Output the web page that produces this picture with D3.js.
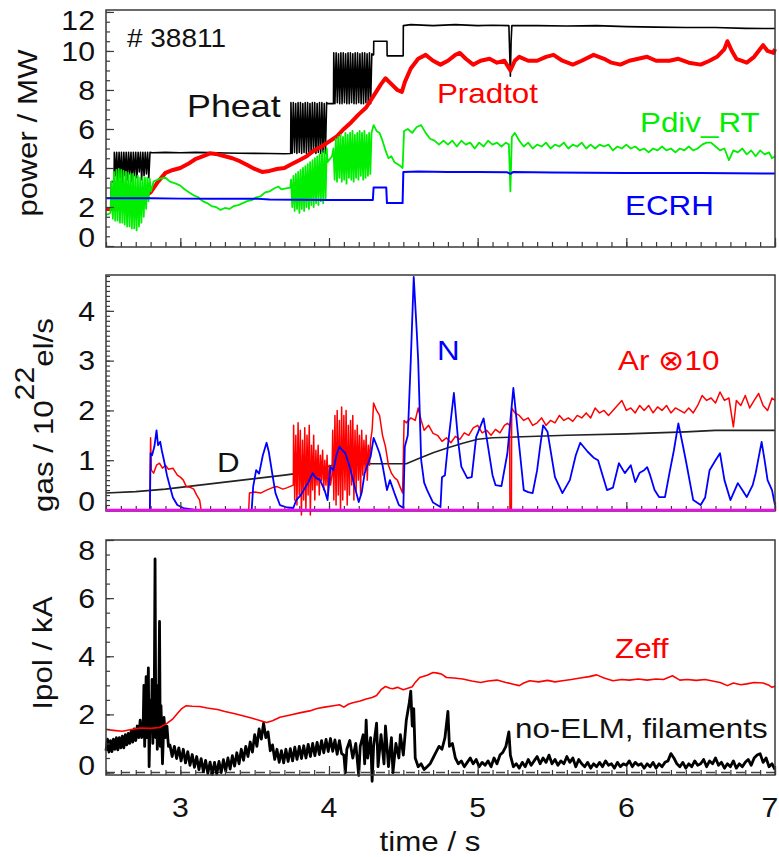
<!DOCTYPE html>
<html>
<head>
<meta charset="utf-8">
<script src="https://cdn.jsdelivr.net/npm/d3@7"></script>
<style>
  body { margin: 0; background: #fff; }
  text { font-family: "Liberation Sans", Arial, sans-serif; }
</style>
</head>
<body>
<svg id="chart" width="779" height="857"></svg>
<script>
const seq = (t0, dt, vals) => vals.map((v, i) => [+(t0 + i * dt).toFixed(4), v]);

const timeTicks = [3, 4, 5, 6, 7];
const powerTicks = [0, 2, 4, 6, 8, 10, 12];
const gasTicks = [0, 1, 2, 3, 4];
const ipolTicks = [0, 2, 4, 6, 8];

// ---- top panel: power / MW ----
const pheat = [
  [2.50, 2.46], [2.52, 2.45], [2.535, 2.45], [2.536, 3.3], [2.554, 3.3],
  ...seq(2.556, 0.008, [4.8, 3.6, 4.8, 3.3, 4.8, 3.5, 4.8, 3.2, 4.8, 3.6, 4.8, 3.4, 4.8, 3.7, 4.8, 3.3,
    4.8, 3.6, 4.8, 3.5, 4.8, 3.8, 4.8, 3.4, 4.8, 3.6, 4.8, 3.7, 4.8, 3.5, 4.8]),
  [2.81, 4.78], [2.9, 4.8], [3.0, 4.78], [3.1, 4.8], [3.2, 4.79], [3.3, 4.77], [3.4, 4.76],
  [3.5, 4.75], [3.6, 4.74], [3.7, 4.73], [3.742, 4.74],
  ...seq(3.744, 0.008, [7.35, 4.75, 7.35, 4.8, 7.3, 4.75, 7.35, 4.8, 7.35, 4.75, 7.3, 4.8, 7.35, 4.75, 7.35, 4.8,
    7.3, 4.75, 7.35, 4.8, 7.35, 4.75, 7.3, 4.8, 7.35, 4.75, 7.35, 4.8, 7.3, 4.75, 7.35]),
  [3.99, 7.3], [4.03, 7.3],
  ...seq(4.032, 0.008, [9.9, 7.3, 9.9, 7.35, 9.85, 7.3, 9.9, 7.3, 9.9, 7.35, 9.85, 7.3, 9.9, 7.3, 9.9, 7.35,
    9.85, 7.3, 9.9, 7.3, 9.9, 7.35, 9.85, 7.3, 9.9, 7.3, 9.9, 7.35, 9.85, 7.3, 9.9, 7.3, 9.85]),
  [4.295, 9.8], [4.30, 9.8], [4.301, 10.5], [4.39, 10.5], [4.391, 9.75], [4.499, 9.75], [4.50, 11.3],
  [4.55, 11.35], [4.7, 11.3], [4.85, 11.35], [5.0, 11.3], [5.1, 11.32], [5.21, 11.3], [5.215, 10.0],
  [5.22, 8.7], [5.225, 10.5], [5.23, 11.3], [5.4, 11.3], [5.6, 11.28], [5.8, 11.3], [6.0, 11.25],
  [6.2, 11.22], [6.4, 11.2], [6.6, 11.2], [6.8, 11.16], [7.0, 11.15]
];

const pradtot = [
  [2.50, 1.9], [2.55, 1.9], [2.60, 1.95], [2.65, 2.2], [2.70, 2.3], [2.75, 2.5], [2.80, 2.75],
  [2.85, 3.3], [2.90, 3.75], [2.95, 3.9], [3.00, 4.0], [3.05, 4.2], [3.10, 4.45], [3.15, 4.6],
  [3.20, 4.75], [3.25, 4.7], [3.30, 4.6], [3.35, 4.5], [3.40, 4.35], [3.45, 4.15], [3.50, 3.95],
  [3.55, 3.8], [3.60, 3.85], [3.65, 3.95], [3.70, 4.0], [3.75, 4.2], [3.80, 4.4], [3.85, 4.6],
  [3.90, 4.9], [3.95, 5.1], [4.00, 5.35], [4.05, 5.6], [4.10, 6.0], [4.15, 6.35], [4.20, 6.75],
  [4.25, 7.1], [4.30, 7.7], [4.35, 8.3], [4.38, 8.6], [4.42, 8.3], [4.46, 8.0], [4.49, 7.9],
  [4.51, 8.4], [4.55, 9.1], [4.60, 9.6], [4.65, 9.8], [4.70, 9.5], [4.75, 9.3], [4.80, 9.5],
  [4.85, 9.8], [4.88, 9.9], [4.92, 9.6], [4.97, 9.3], [5.02, 9.5], [5.08, 9.6], [5.13, 9.4],
  [5.18, 9.5], [5.22, 9.0], [5.25, 9.5], [5.28, 9.7], [5.34, 9.5], [5.40, 9.5], [5.46, 9.7],
  [5.51, 9.8], [5.57, 9.5], [5.64, 9.3], [5.70, 9.5], [5.78, 9.8], [5.85, 9.6], [5.90, 9.4],
  [5.96, 9.3], [6.02, 9.5], [6.08, 9.6], [6.14, 9.7], [6.20, 9.5], [6.29, 9.5], [6.35, 9.6],
  [6.42, 9.4], [6.50, 9.3], [6.56, 9.5], [6.61, 9.7], [6.66, 10.1], [6.68, 10.5], [6.71, 10.0],
  [6.74, 9.6], [6.81, 9.4], [6.86, 9.7], [6.90, 10.1], [6.92, 10.3], [6.95, 10.0], [6.99, 9.9], [7.0, 10.1]
];

const pdivRT = [
  [2.50, 1.6], [2.52, 1.65],
  ...seq(2.53, 0.008, [1.7, 3.3, 1.4, 3.8, 1.3, 3.9, 1.3, 3.95, 1.2, 3.9, 1.2, 3.85, 1.1, 3.8, 1.0, 3.75,
    1.0, 3.7, 0.9, 3.7, 0.9, 3.6, 0.8, 3.6, 1.0, 3.5, 1.2, 3.5, 1.5, 3.5, 1.9, 3.5, 2.3, 3.45, 2.8]),
  [2.82, 3.3], [2.86, 3.45], [2.90, 3.5], [2.93, 3.3], [2.97, 3.2], [3.00, 3.1], [3.03, 2.9],
  [3.06, 2.75], [3.09, 2.6], [3.12, 2.5], [3.15, 2.3], [3.18, 2.2], [3.21, 2.05], [3.24, 2.0],
  [3.27, 1.85], [3.30, 1.95], [3.33, 1.9], [3.36, 2.05], [3.39, 2.1], [3.42, 2.2], [3.45, 2.3],
  [3.48, 2.35], [3.51, 2.5], [3.54, 2.55], [3.57, 2.75], [3.60, 2.8], [3.63, 2.95], [3.66, 3.05],
  [3.68, 2.9], [3.71, 2.95], [3.74, 3.0],
  ...seq(3.745, 0.008, [3.4, 2.0, 3.6, 1.8, 3.7, 1.9, 3.8, 1.7, 3.9, 1.9, 4.0, 1.8, 4.1, 2.0, 4.2, 1.9,
    4.3, 2.1, 4.4, 2.0, 4.5, 2.2, 4.6, 2.1, 4.7, 2.3, 4.8, 2.2, 4.9, 2.4, 5.0]),
  [3.99, 4.3], [4.02, 4.6],
  ...seq(4.03, 0.008, [5.0, 3.4, 5.5, 3.3, 5.6, 3.5, 5.7, 3.3, 5.6, 3.4, 5.8, 3.2, 5.7, 3.5, 5.8, 3.4,
    5.9, 3.3, 5.7, 3.5, 5.8, 3.4, 5.9, 3.6, 5.8, 3.4, 5.9, 3.5, 5.7, 3.6, 5.8, 3.7, 5.8]),
  [4.30, 6.2], [4.32, 5.9], [4.34, 5.8], [4.36, 5.4], [4.38, 4.9], [4.40, 4.5], [4.42, 4.6],
  [4.44, 4.3], [4.46, 4.2], [4.48, 4.1], [4.495, 4.0], [4.505, 5.9], [4.53, 6.0], [4.56, 5.8],
  [4.59, 6.1], [4.62, 6.2], [4.65, 5.8], [4.68, 5.5], [4.71, 5.4], [4.74, 5.2], [4.77, 5.4],
  [4.80, 5.2], [4.83, 5.4], [4.86, 5.1], [4.89, 5.4], [4.92, 5.2], [4.95, 5.3], [4.98, 5.0],
  [5.01, 5.3], [5.04, 5.1], [5.07, 5.4], [5.10, 5.2], [5.13, 5.3], [5.16, 5.1], [5.19, 5.3],
  [5.21, 5.2], [5.22, 2.8], [5.23, 5.6], [5.25, 5.8], [5.28, 5.4], [5.31, 5.1], [5.34, 5.3],
  [5.37, 5.0], [5.40, 5.2], [5.43, 5.1], [5.46, 5.3], [5.49, 5.0], [5.52, 5.2], [5.55, 5.1],
  [5.58, 5.3], [5.61, 5.0], [5.64, 5.2], [5.67, 5.1], [5.70, 5.3], [5.73, 5.0], [5.76, 5.2],
  [5.79, 5.0], [5.82, 5.2], [5.85, 5.1], [5.88, 5.2], [5.91, 4.9], [5.94, 5.1], [5.97, 5.0],
  [6.00, 5.2], [6.03, 5.0], [6.06, 5.1], [6.09, 4.9], [6.12, 5.0], [6.15, 4.8], [6.18, 5.0],
  [6.21, 4.9], [6.24, 5.1], [6.27, 4.9], [6.30, 5.0], [6.33, 4.8], [6.36, 5.0], [6.39, 4.9],
  [6.42, 5.1], [6.45, 4.9], [6.48, 5.0], [6.51, 5.2], [6.54, 5.3], [6.57, 5.3], [6.60, 5.1],
  [6.63, 4.9], [6.66, 5.0], [6.69, 4.4], [6.72, 4.9], [6.75, 4.8], [6.78, 5.0], [6.81, 4.7],
  [6.84, 4.9], [6.87, 4.6], [6.90, 4.9], [6.93, 4.7], [6.96, 4.8], [6.98, 4.5], [7.00, 4.6]
];

const ecrh = [
  [2.50, 2.45], [2.6, 2.45], [2.8, 2.45], [3.0, 2.43], [3.2, 2.42], [3.4, 2.42], [3.5, 2.43],
  [3.6, 2.38], [3.8, 2.37], [4.0, 2.36], [4.2, 2.36], [4.295, 2.36], [4.30, 3.0], [4.385, 3.0],
  [4.39, 2.2], [4.495, 2.2], [4.50, 3.8], [4.6, 3.82], [4.8, 3.8], [5.0, 3.79], [5.2, 3.78],
  [5.22, 3.7], [5.24, 3.8], [5.5, 3.77], [6.0, 3.75], [6.5, 3.74], [7.0, 3.72]
];

// ---- middle panel: gas / 10^22 el/s ----
const gasD = [
  [2.50, 0.34], [2.7, 0.37], [2.9, 0.42], [3.1, 0.49], [3.3, 0.56], [3.5, 0.63], [3.7, 0.7],
  [3.8, 0.74], [3.9, 0.8], [4.0, 0.88], [4.05, 0.92], [4.2, 0.93], [4.4, 0.93], [4.52, 0.93],
  [4.6, 1.03], [4.7, 1.15], [4.8, 1.25], [4.9, 1.34], [5.0, 1.42], [5.1, 1.45], [5.3, 1.47],
  [5.6, 1.5], [6.0, 1.53], [6.4, 1.57], [6.6, 1.6], [7.0, 1.6]
];

const gasN = [
  [2.50, 0], [2.795, 0], [2.80, 1.14], [2.81, 1.1], [2.825, 1.27], [2.84, 1.6], [2.85, 1.3],
  [2.865, 1.37], [2.875, 1.2], [2.89, 1.0], [2.91, 0.7], [2.93, 0.47], [2.95, 0.25], [2.98, 0.1],
  [3.02, 0.04], [3.08, 0.01], [3.10, 0], [3.48, 0], [3.49, 0.47], [3.51, 0.8], [3.53, 0.73],
  [3.555, 1.1], [3.58, 1.35], [3.595, 1.17], [3.62, 0.7], [3.64, 0.34], [3.67, 0.1], [3.72, 0.05],
  [3.76, 0.04], [3.78, 0.2], [3.81, 0.3], [3.83, 0.4], [3.86, 0.55], [3.89, 0.74], [3.91, 0.65],
  [3.94, 0.6], [3.97, 0.4], [3.99, 0.2], [4.01, 0.86], [4.03, 0.8], [4.05, 1.1], [4.07, 1.27],
  [4.09, 1.2], [4.11, 1.14], [4.14, 0.86], [4.17, 0.5], [4.20, 0.16], [4.22, 0.35], [4.24, 0.74],
  [4.27, 1.0], [4.28, 1.07], [4.30, 1.45], [4.32, 1.3], [4.34, 1.14], [4.36, 0.9], [4.39, 0.4],
  [4.41, 0.6], [4.44, 0.34], [4.47, 0.1], [4.50, 0.04], [4.51, 1.27], [4.53, 1.5], [4.55, 3.0],
  [4.57, 4.68], [4.59, 3.6], [4.60, 3.0], [4.62, 1.0], [4.64, 0.55], [4.66, 0.4], [4.70, 0.15],
  [4.75, 0.06], [4.76, 0.66], [4.78, 0.7], [4.80, 1.3], [4.84, 2.35], [4.87, 1.35], [4.89, 0.87],
  [4.93, 0.64], [4.96, 0.66], [4.99, 1.47], [5.04, 1.84], [5.07, 1.27], [5.10, 0.7], [5.12, 0.5],
  [5.16, 0.48], [5.20, 1.14], [5.24, 2.45], [5.28, 1.27], [5.31, 0.4], [5.34, 0.36], [5.37, 0.34],
  [5.40, 0.8], [5.42, 1.27], [5.44, 1.7], [5.47, 1.57], [5.52, 0.66], [5.57, 0.34], [5.62, 0.6],
  [5.66, 1.1], [5.69, 1.35], [5.74, 1.17], [5.78, 1.05], [5.81, 1.0], [5.84, 0.7], [5.87, 0.4],
  [5.91, 0.45], [5.95, 0.94], [5.99, 0.74], [6.03, 0.9], [6.06, 0.56], [6.09, 0.75], [6.12, 0.8],
  [6.14, 0.86], [6.16, 0.7], [6.19, 0.4], [6.22, 0.26], [6.26, 0.26], [6.29, 0.74], [6.32, 1.2],
  [6.35, 1.74], [6.38, 1.3], [6.40, 1.0], [6.45, 0.2], [6.50, 0.1], [6.53, 0.25], [6.56, 0.8],
  [6.60, 1.0], [6.63, 1.14], [6.66, 0.6], [6.70, 0.2], [6.75, 0.54], [6.78, 0.4], [6.81, 0.26],
  [6.85, 0.5], [6.87, 0.74], [6.91, 1.37], [6.93, 1.0], [6.95, 0.6], [6.98, 0.4], [7.00, 0.1]
];

const gasAr10 = [
  [2.795, 0], [2.80, 1.45], [2.805, 0.8], [2.82, 0.74], [2.84, 0.9], [2.86, 0.94], [2.88, 0.84],
  [2.90, 0.9], [2.92, 0.82], [2.95, 0.84], [2.98, 0.7], [3.0, 0.66], [3.02, 0.6], [3.04, 0.47],
  [3.07, 0.45], [3.09, 0.42], [3.11, 0.3], [3.13, 0.2], [3.14, 0], [3.46, 0],
  [3.465, 0.34], [3.50, 0.36], [3.54, 0.34], [3.58, 0.4], [3.62, 0.45], [3.65, 0.47], [3.69, 0.42],
  [3.72, 0.45], [3.76, 0.5],
  ...seq(3.762, 0.0075, [1.7, 0.2, 1.5, 0.1, 1.75, 0.3, 1.6, -0.1, 1.4, 0.2, 1.65, 0.0, 1.5, 0.3, 1.7, -0.1,
    1.3, 0.4, 1.5, 0.2, 1.2, 0.5, 1.3, 0.3, 1.1, 0.6, 1.2, 0.4, 1.0, 0.5, 1.1, 0.3, 0.9]),
  [4.01, 0.5], [4.02, 0.7],
  ...seq(4.025, 0.0075, [1.6, 0.2, 1.9, 0.1, 2.0, 0.3, 1.8, 0.0, 2.07, 0.2, 1.9, 0.4, 2.0, 0.1, 1.7, 0.3,
    1.8, 0.5, 1.9, 0.2, 1.6, 0.4, 1.7, 0.6, 1.5, 0.3, 1.6, 0.7, 1.4, 0.8, 1.5, 0.6, 1.3, 0.9, 1.4]),
  [4.29, 1.6], [4.30, 2.15], [4.32, 2.0], [4.34, 1.9], [4.36, 1.5], [4.38, 1.27], [4.40, 0.9],
  [4.42, 0.74], [4.44, 0.65], [4.46, 0.6], [4.48, 0.45], [4.495, 0.34], [4.505, 1.8], [4.52, 1.75],
  [4.55, 1.85], [4.58, 1.8], [4.60, 2.05], [4.62, 1.8], [4.64, 1.6], [4.67, 1.7], [4.70, 1.54],
  [4.73, 1.5], [4.76, 1.38], [4.79, 1.45], [4.82, 1.35], [4.85, 1.48], [4.88, 1.42], [4.91, 1.55],
  [4.94, 1.5], [4.97, 1.65], [5.00, 1.7], [5.03, 1.55], [5.06, 1.6], [5.09, 1.5], [5.12, 1.62],
  [5.15, 1.55], [5.18, 1.7], [5.20, 1.74], [5.215, 1.7], [5.217, 0], [5.227, 0], [5.229, 2.05],
  [5.25, 1.95], [5.28, 1.9], [5.31, 1.8], [5.34, 1.85], [5.37, 1.7], [5.40, 1.75], [5.43, 1.85],
  [5.46, 1.7], [5.49, 1.8], [5.52, 1.75], [5.55, 1.9], [5.58, 1.8], [5.61, 1.85], [5.64, 1.78],
  [5.67, 1.9], [5.70, 1.85], [5.73, 1.95], [5.76, 1.85], [5.79, 2.05], [5.82, 1.95], [5.85, 2.0],
  [5.88, 1.9], [5.91, 2.0], [5.94, 2.1], [5.97, 2.2], [6.00, 2.0], [6.03, 2.05], [6.06, 1.95],
  [6.09, 2.1], [6.12, 2.0], [6.15, 2.1], [6.18, 1.95], [6.21, 2.07], [6.24, 2.0], [6.27, 2.1],
  [6.30, 1.95], [6.33, 2.05], [6.36, 2.0], [6.39, 1.95], [6.42, 2.05], [6.45, 1.95], [6.48, 2.1],
  [6.51, 2.3], [6.54, 2.2], [6.57, 2.25], [6.60, 2.15], [6.63, 2.37], [6.66, 2.2], [6.69, 2.25],
  [6.72, 1.67], [6.74, 2.2], [6.77, 2.1], [6.80, 2.3], [6.83, 2.05], [6.86, 2.2], [6.89, 2.34],
  [6.92, 2.1], [6.95, 2.0], [6.98, 2.25], [7.00, 2.2]
];

const gasOther = [[2.5, 0], [7.0, 0]];

// ---- bottom panel: Ipol / kA and Zeff ----
const zeff = [
  [2.50, 1.48], [2.55, 1.45], [2.61, 1.42], [2.67, 1.48], [2.73, 1.53], [2.80, 1.52], [2.86, 1.55],
  [2.91, 1.69], [2.95, 1.85], [2.98, 2.03], [3.01, 2.2], [3.04, 2.3], [3.08, 2.28], [3.13, 2.27],
  [3.18, 2.22], [3.25, 2.17], [3.30, 2.1], [3.36, 2.03], [3.42, 1.95], [3.49, 1.86], [3.54, 1.78],
  [3.58, 1.72], [3.62, 1.78], [3.67, 1.9], [3.74, 1.98], [3.81, 2.06], [3.87, 2.12], [3.92, 2.2],
  [3.97, 2.25], [4.03, 2.3], [4.07, 2.33], [4.10, 2.25], [4.13, 2.35], [4.16, 2.4], [4.21, 2.46],
  [4.25, 2.53], [4.29, 2.58], [4.32, 2.65], [4.35, 2.85], [4.38, 2.96], [4.41, 2.9], [4.43, 2.88],
  [4.46, 2.93], [4.50, 2.85], [4.53, 2.9], [4.56, 2.95], [4.58, 3.1], [4.61, 3.27], [4.66, 3.35],
  [4.70, 3.44], [4.73, 3.42], [4.76, 3.38], [4.79, 3.27], [4.84, 3.25], [4.90, 3.22], [4.96, 3.15],
  [5.02, 3.1], [5.07, 3.15], [5.13, 3.18], [5.19, 3.1], [5.24, 3.04], [5.28, 2.99], [5.31, 3.08],
  [5.35, 3.16], [5.41, 3.12], [5.47, 3.17], [5.52, 3.12], [5.57, 3.16], [5.63, 3.2], [5.69, 3.25],
  [5.75, 3.3], [5.80, 3.36], [5.85, 3.25], [5.91, 3.16], [5.97, 3.2], [6.02, 3.18], [6.08, 3.22],
  [6.14, 3.18], [6.20, 3.22], [6.25, 3.2], [6.31, 3.33], [6.36, 3.18], [6.41, 3.2], [6.47, 3.17],
  [6.53, 3.2], [6.58, 3.15], [6.63, 3.1], [6.68, 2.99], [6.72, 3.08], [6.77, 3.02], [6.81, 3.05],
  [6.86, 3.1], [6.92, 3.08], [6.96, 3.0], [6.98, 2.93], [7.00, 2.97]
];

const ipol = [
  [2.50, 0.75], [2.51, 1.15], [2.52, 0.7], [2.53, 1.1], [2.54, 0.72], [2.55, 1.15], [2.56, 0.8],
  [2.57, 1.2], [2.58, 0.78], [2.59, 1.2], [2.60, 0.85], [2.61, 1.25], [2.62, 0.85], [2.63, 1.3],
  [2.64, 0.95], [2.65, 1.35], [2.66, 1.0], [2.67, 1.45], [2.68, 1.05], [2.69, 1.5], [2.70, 1.1],
  [2.71, 1.6], [2.72, 1.2], [2.73, 1.8], [2.74, 1.2],
  [2.75, 1.6], [2.755, 3.0], [2.76, 0.9], [2.77, 3.3], [2.775, 1.2], [2.785, 3.6], [2.79, 0.2],
  [2.80, 2.5], [2.805, 1.4], [2.81, 3.2], [2.815, 1.0], [2.825, 2.9], [2.83, 7.35], [2.835, 1.2],
  [2.84, 3.0], [2.845, 0.8], [2.855, 2.6], [2.86, 5.2], [2.865, 0.9], [2.87, 2.3], [2.88, 0.3],
  [2.89, 1.9], [2.90, 1.2], [2.91, 1.6], [2.92, 0.9],
  ...seq(2.93, 0.015, [0.95, 0.55, 0.9, 0.48, 0.85, 0.4, 0.8, 0.33, 0.72, 0.25, 0.62, 0.18, 0.55, 0.1, 0.48, 0.03,
    0.42, -0.03, 0.36, -0.06, 0.35, -0.05, 0.38, 0.0, 0.44, 0.05, 0.5, 0.12, 0.58, 0.22, 0.68, 0.3,
    0.8, 0.42, 0.9, 0.55, 1.05, 0.7, 1.3, 0.9, 1.5, 1.15, 1.7, 1.2, 1.4, 0.75, 0.95, 0.45,
    0.8, 0.35, 0.75, 0.33, 0.8, 0.38, 0.82, 0.4, 0.87, 0.45, 0.9, 0.48, 0.92, 0.5, 0.97, 0.55,
    1.0, 0.58, 1.04, 0.62, 1.1, 0.68, 1.14, 0.72, 1.17, 0.73, 1.12, 0.63, 1.1, 0.65]),
  [4.10, 0.6], [4.11, 0.0], [4.12, 0.8],
  [4.14, 1.1], [4.16, 0.5], [4.18, 1.0], [4.20, -0.1], [4.21, 0.9], [4.23, 1.3], [4.24, 0.3],
  [4.25, 1.8], [4.26, 0.5], [4.28, 1.2], [4.29, -0.3], [4.30, 0.9], [4.32, 1.7], [4.33, 0.2],
  [4.35, 1.3], [4.37, 0.3], [4.38, 1.6], [4.40, 0.2], [4.42, 1.2], [4.43, 0.0], [4.45, 1.0],
  [4.47, 0.5], [4.48, 1.3], [4.50, 0.6], [4.52, 1.8], [4.54, 2.4], [4.55, 2.8], [4.56, 1.6],
  [4.57, 2.2], [4.58, 0.5], [4.60, 0.2], [4.62, 0.3], [4.64, 0.1], [4.66, 0.2], [4.68, 0.3],
  [4.70, 0.5], [4.72, 0.7], [4.74, 0.9], [4.76, 0.8], [4.78, 1.2], [4.80, 2.1], [4.81, 0.9],
  [4.83, 1.0], [4.85, 0.5], [4.87, 0.3], [4.89, 0.4], [4.91, 0.2], [4.93, 0.35], [4.95, 0.5],
  [4.97, 0.3], [4.99, 0.45], [5.01, 0.2], [5.03, 0.35], [5.05, 0.25], [5.07, 0.4], [5.09, 0.2],
  [5.11, 0.5], [5.13, 0.3], [5.15, 0.6], [5.17, 0.7], [5.19, 0.9], [5.21, 1.4], [5.22, 0.6],
  [5.24, 0.2], [5.26, 0.3], [5.28, 0.15], [5.30, 0.35], [5.32, 0.2], [5.34, 0.45], [5.36, 0.25],
  [5.38, 0.4], [5.40, 0.55], [5.42, 0.3], [5.44, 0.5], [5.46, 0.35], [5.48, 0.6], [5.50, 0.3],
  [5.52, 0.45], [5.54, 0.25], [5.56, 0.4], [5.58, 0.3], [5.60, 0.55], [5.62, 0.35], [5.64, 0.5],
  [5.66, 0.2], [5.68, 0.45], [5.70, 0.3], [5.72, 0.2], [5.74, 0.35], [5.76, 0.15], [5.78, 0.3],
  [5.80, 0.2], [5.82, 0.35], [5.84, 0.2], [5.86, 0.4], [5.88, 0.25], [5.90, 0.3], [5.92, 0.15],
  [5.94, 0.35], [5.96, 0.2], [5.98, 0.3], [6.00, 0.25], [6.02, 0.4], [6.04, 0.2], [6.06, 0.35],
  [6.08, 0.25], [6.10, 0.3], [6.12, 0.15], [6.14, 0.3], [6.16, 0.2], [6.18, 0.35], [6.20, 0.15],
  [6.22, 0.3], [6.24, 0.2], [6.26, 0.35], [6.28, 0.4], [6.30, 0.65], [6.32, 0.5], [6.34, 0.3],
  [6.36, 0.2], [6.38, 0.35], [6.40, 0.15], [6.42, 0.3], [6.44, 0.2], [6.46, 0.4], [6.48, 0.25],
  [6.50, 0.3], [6.52, 0.45], [6.54, 0.2], [6.56, 0.4], [6.58, 0.3], [6.60, 0.5], [6.62, 0.25],
  [6.64, 0.35], [6.66, 0.15], [6.68, 0.3], [6.70, 0.2], [6.72, 0.4], [6.74, 0.15], [6.76, 0.3],
  [6.78, 0.2], [6.80, 0.35], [6.82, 0.45], [6.84, 0.25], [6.86, 0.5], [6.88, 0.6], [6.90, 0.65],
  [6.92, 0.35], [6.94, 0.5], [6.96, 0.2], [6.98, 0.3], [7.00, 0.1]
];

// ---- scales ----
const x = d3.scaleLinear().domain([2.5, 7]).range([106, 775]);
const yPow = d3.scaleLinear().domain([-0.05, 12.1]).range([247, 10]);
const yGas = d3.scaleLinear().domain([-0.02, 4.72]).range([511, 275]);
const yIpol = d3.scaleLinear().domain([-0.085, 8.0]).range([775, 540]);

const svg = d3.select('#chart');
svg.append('rect').attr('width', 779).attr('height', 857).attr('fill', '#fff');

const frameColor = '#3a3a3a';
const sx = 1.12; // the lettering in the figure is a bit wide

function stepValues(lo, hi, step) {
  return d3.range(Math.ceil(lo / step - 1e-9), Math.floor(hi / step + 1e-9) + 1)
    .map(i => +(i * step).toFixed(3));
}

function styleTicks(g) {
  g.select('.domain').remove();
  g.selectAll('.tick line').attr('stroke', frameColor).attr('stroke-width', 1.2);
}

function ticks(y, minorStep, majorStep) {
  const [bottom, top] = y.range();
  const [v0, v1] = y.domain();
  const g = svg.append('g');
  const xAt = g.append('g').attr('transform', `translate(0,${bottom})`);
  xAt.append('g').call(d3.axisBottom(x).tickValues(stepValues(2.5, 7, 0.1)).tickSize(-5).tickFormat('')).call(styleTicks);
  xAt.append('g').call(d3.axisBottom(x).tickValues(timeTicks).tickSize(-9).tickFormat('')).call(styleTicks);
  const yAt = g.append('g').attr('transform', `translate(${x.range()[0]},0)`);
  yAt.append('g').call(d3.axisLeft(y).tickValues(stepValues(v0, v1, minorStep)).tickSize(-4).tickFormat('')).call(styleTicks);
  yAt.append('g').call(d3.axisLeft(y).tickValues(stepValues(v0, v1, majorStep)).tickSize(-8).tickFormat('')).call(styleTicks);
}

function yLabels(y, values) {
  const [bottom, top] = y.range();
  svg.append('g').selectAll('text').data(values).join('text')
    .attr('transform', d => `translate(95,${Math.max(top + 10, Math.min(bottom - 10, y(d)))}) scale(${sx},1)`)
    .attr('dy', '0.36em')
    .attr('text-anchor', 'end')
    .attr('font-size', 27)
    .attr('fill', '#111')
    .text(d => d);
}

function frame(y) {
  const [bottom, top] = y.range();
  svg.append('rect')
    .attr('x', x.range()[0]).attr('y', top)
    .attr('width', x.range()[1] - x.range()[0]).attr('height', bottom - top)
    .attr('fill', 'none').attr('stroke', frameColor).attr('stroke-width', 1.5);
}

function plot(data, y, color, width, dash) {
  const line = d3.line().x(d => x(d[0])).y(d => y(d[1]));
  svg.append('path').datum(data)
    .attr('d', line)
    .attr('fill', 'none')
    .attr('stroke', color)
    .attr('stroke-width', width)
    .attr('stroke-linejoin', 'round')
    .attr('stroke-dasharray', dash || null);
}

function note(txt, t, v, y, color, size) {
  svg.append('text')
    .attr('transform', `translate(${x(t)},${y(v)}) scale(${sx},1)`)
    .attr('font-size', size)
    .attr('fill', color)
    .text(txt);
}

function yTitle(cx, cy, size) {
  return svg.append('text')
    .attr('transform', `translate(${cx},${cy}) rotate(-90) scale(${sx},1)`)
    .attr('text-anchor', 'middle')
    .attr('font-size', size)
    .attr('fill', '#111');
}

// ---- top panel ----
plot(pheat, yPow, '#000', 1.6);
plot(pradtot, yPow, '#ff0000', 4);
plot(pdivRT, yPow, '#00ee00', 1.8);
plot(ecrh, yPow, '#0000ff', 2);
ticks(yPow, 0.5, 2);
frame(yPow);
yLabels(yPow, powerTicks);
yTitle(37, 133, 28).text('power / MW');
note('# 38811', 2.641, 10.2, yPow, '#111', 25);
note('Pheat', 3.045, 6.62, yPow, '#111', 32);
note('Pradtot', 4.726, 7.33, yPow, '#ff0000', 28);
note('Pdiv_RT', 6.092, 5.85, yPow, '#00ee00', 28);
note('ECRH', 5.991, 1.59, yPow, '#0000ff', 28);

// ---- middle panel ----
plot(gasD, yGas, '#222', 1.6);
plot(gasAr10, yGas, '#ff0000', 1.5);
plot(gasN, yGas, '#0000ff', 1.8);
ticks(yGas, 0.1, 1);
frame(yGas);
plot(gasOther, yGas, '#ff00ff', 2.5);
yLabels(yGas, gasTicks);
const gt = yTitle(53, 415, 28);
gt.append('tspan').text('gas / 10');
gt.append('tspan').attr('dy', -19).attr('font-size', 27).text('22');
gt.append('tspan').attr('dy', 19).text('el/s');
note('D', 3.247, 0.763, yGas, '#111', 28);
note('N', 4.726, 3.01, yGas, '#0000ff', 28);
note('Ar \u229710', 5.944, 2.81, yGas, '#ff0000', 28);

// ---- bottom panel ----
plot([[2.5, 0], [7.0, 0]], yIpol, '#444', 1.5, '9,6');
plot(ipol, yIpol, '#000', 2.8);
plot(zeff, yIpol, '#ff0000', 1.6);
ticks(yIpol, 0.5, 2);
frame(yIpol);
yLabels(yIpol, ipolTicks);
yTitle(52, 653, 28).text('Ipol / kA');
note('Zeff', 5.924, 3.94, yIpol, '#ff0000', 28);
note('no-ELM, filaments', 5.251, 1.18, yIpol, '#111', 28);

// time axis labels (the last one sits at the right edge)
svg.append('g').selectAll('text').data(timeTicks).join('text')
  .attr('transform', d => `translate(${Math.min(x(d), 770)},817) scale(${sx},1)`)
  .attr('text-anchor', 'middle')
  .attr('font-size', 27)
  .attr('fill', '#111')
  .text(d => d);
svg.append('text')
  .attr('transform', `translate(430,851) scale(${sx},1)`)
  .attr('text-anchor', 'middle')
  .attr('font-size', 28)
  .attr('fill', '#111')
  .text('time / s');
</script>
</body>
</html>
